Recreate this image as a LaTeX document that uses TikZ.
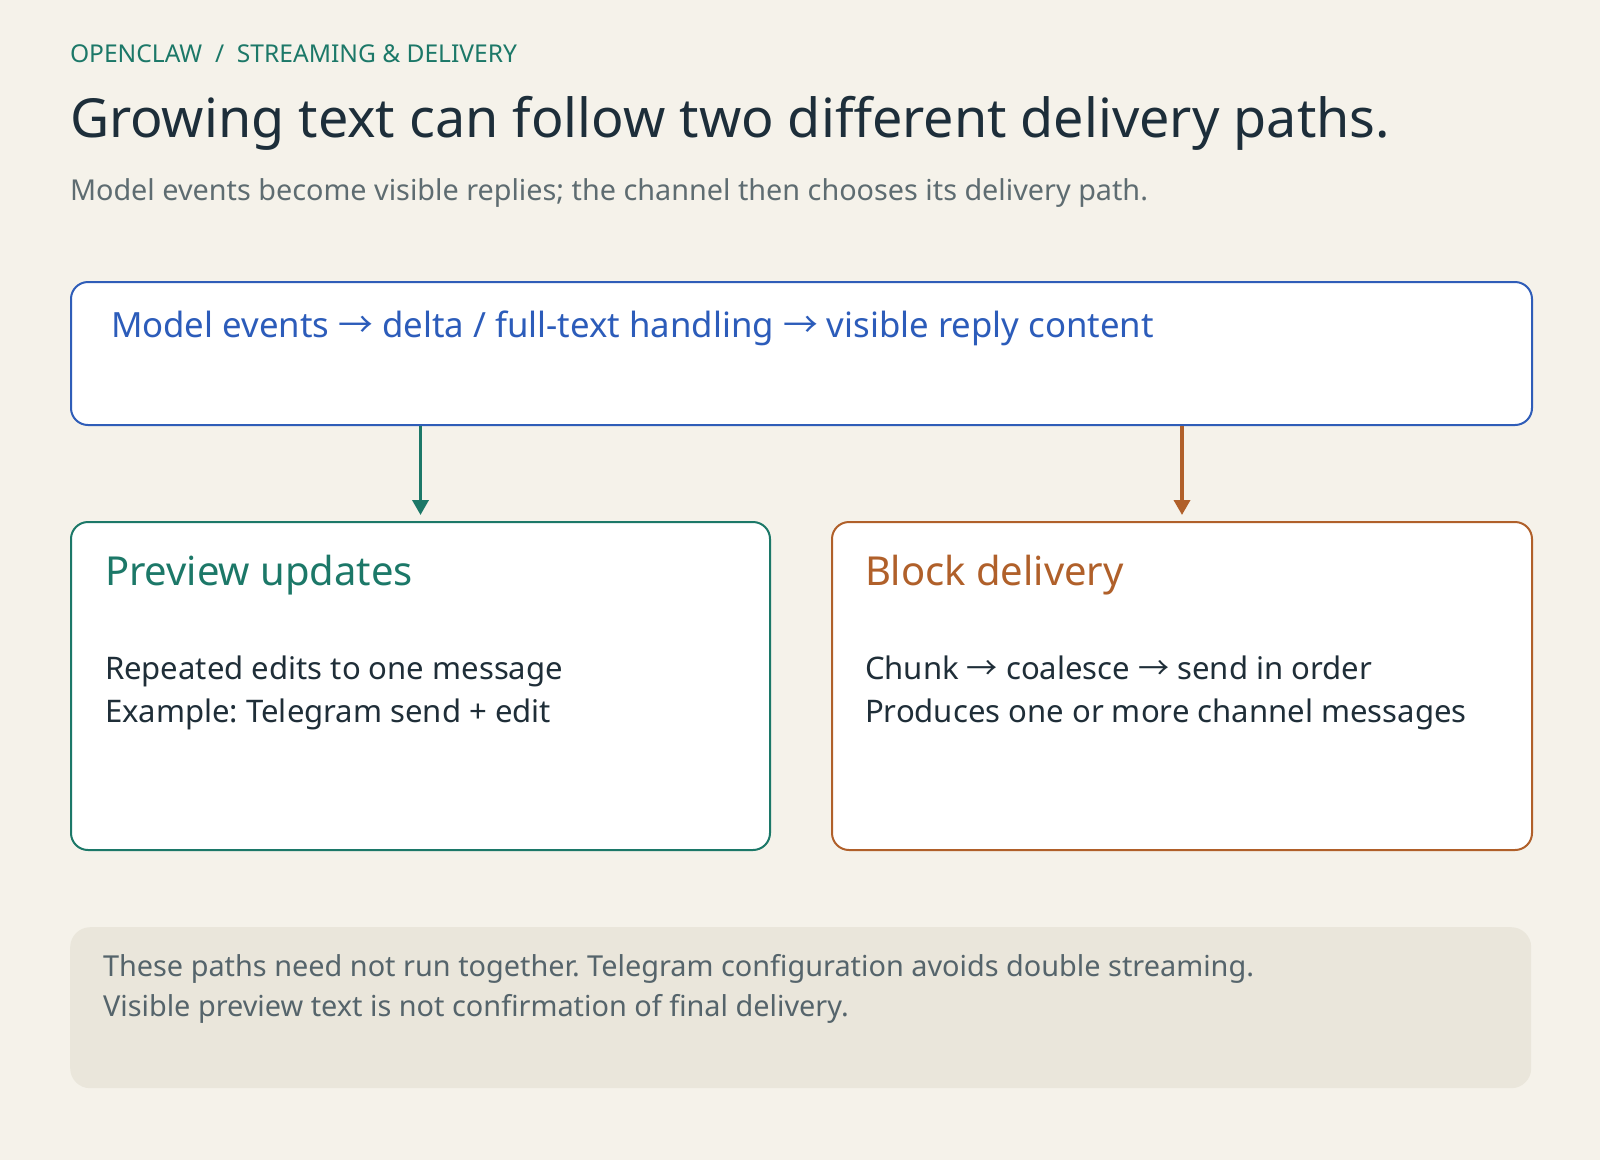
\documentclass[tikz,border=0pt]{standalone}
\usepackage{fontspec}
\setmainfont{Noto Sans}
\newfontfamily\arrowfont{Noto Sans CJK JP}
\newcommand\ar{{\arrowfont →}}
\frenchspacing
\usetikzlibrary{arrows.meta}
\definecolor{bg}{HTML}{F5F2EA}
\definecolor{teal}{HTML}{1C7868}
\definecolor{navy}{HTML}{1D2E3A}
\definecolor{subgray}{HTML}{5E6C71}
\definecolor{blueline}{HTML}{2F5DB8}
\definecolor{bluetext}{HTML}{2C5CBA}
\definecolor{orange}{HTML}{B0602A}
\definecolor{bodytext}{HTML}{1F2E38}
\definecolor{notefill}{HTML}{EAE6DB}
\definecolor{notetext}{HTML}{55646B}
\newsavebox\fitbox
\newdimen\fitdim
\newcommand\fitsize[3]{%
  \sbox\fitbox{\fontsize{10}{12}\selectfont #3}%
  \fitdim=\wd\fitbox
  \pgfmathsetmacro#1{#2/\fitdim*10}}
\AtBeginDocument{%
\frenchspacing
\fitsize\szhead{447}{OPENCLAW\ \ /\ \ STREAMING \& DELIVERY}%
\fitsize\sztitle{1320}{Growing text can follow two different delivery paths.}%
\fitsize\szsub{1078}{Model events become visible replies; the channel then chooses its delivery path.}%
\fitsize\sztop{1043}{Model events \ar\ delta / full-text handling \ar\ visible reply content}%
\fitsize\szh{308}{Preview updates}%
\fitsize\szbody{458}{Repeated edits to one message}%
\fitsize\sznote{1151}{These paths need not run together. Telegram configuration avoids double streaming.}%
}
\tikzset{
  txt/.style={inner sep=0pt, outer sep=0pt, anchor=base west},
  card/.style={draw=#1, fill=white, line width=2pt, rounded corners=17pt, inner sep=0pt, anchor=north west},
  flow/.style={draw=#1, line width=3.5pt, -{Triangle[length=15pt,width=16pt]}, shorten >=6pt}
}
\begin{document}
\begin{tikzpicture}[x=1pt,y=-1pt]
\useasboundingbox (0,0) rectangle (1600,1160);
\fill[bg] (0,0) rectangle (1600,1160);

\node[txt, text=teal, font=\fontsize{\szhead}{\szhead}\selectfont] (head) at (70,62) {OPENCLAW\ \ /\ \ STREAMING \& DELIVERY};
\node[txt, text=navy, font=\fontsize{\sztitle}{\sztitle}\selectfont] (title) at (70,137) {Growing text can follow two different delivery paths.};
\node[txt, text=subgray, font=\fontsize{\szsub}{\szsub}\selectfont] (sub) at (70,200) {Model events become visible replies; the channel then chooses its delivery path.};

\node[card=blueline, minimum width=1461pt, minimum height=143pt] (topbox) at (70,281) {};
\node[txt, text=bluetext, font=\fontsize{\sztop}{\sztop}\selectfont] (toptext) at (111,337) {Model events \ar\ delta / full-text handling \ar\ visible reply content};

\node[card=teal, minimum width=699pt, minimum height=328pt] (prevbox) at (70,521) {};
\node[card=orange, minimum width=700pt, minimum height=328pt] (blockbox) at (831,521) {};

\node[txt, text=teal, font=\fontsize{\szh}{\szh}\selectfont] (prevhead) at (105,585) {Preview updates};
\node[txt, text=bodytext, font=\fontsize{\szbody}{\szbody}\selectfont] (prev1) at (105,679) {Repeated edits to one message};
\node[txt, text=bodytext, font=\fontsize{\szbody}{\szbody}\selectfont] (prev2) at (105,722) {Example: Telegram send + edit};

\node[txt, text=orange, font=\fontsize{\szh}{\szh}\selectfont] (blockhead) at (865,585) {Block delivery};
\node[txt, text=bodytext, font=\fontsize{\szbody}{\szbody}\selectfont] (block1) at (865,679) {Chunk \ar\ coalesce \ar\ send in order};
\node[txt, text=bodytext, font=\fontsize{\szbody}{\szbody}\selectfont] (block2) at (865,722) {Produces one or more channel messages};

\draw[flow=teal] (topbox.south -| prevbox.north) -- (prevbox.north);
\draw[flow=orange] (topbox.south -| blockbox.north) -- (blockbox.north);

\node[fill=notefill, rounded corners=20pt, inner sep=0pt, anchor=north west, minimum width=1461pt, minimum height=161pt] (note) at (70,927) {};
\node[txt, text=notetext, font=\fontsize{\sznote}{\sznote}\selectfont] (note1) at (103,976) {These paths need not run together. Telegram configuration avoids double streaming.};
\node[txt, text=notetext, font=\fontsize{\sznote}{\sznote}\selectfont] (note2) at (103,1016) {Visible preview text is not confirmation of final delivery.};
\end{tikzpicture}
\end{document}
